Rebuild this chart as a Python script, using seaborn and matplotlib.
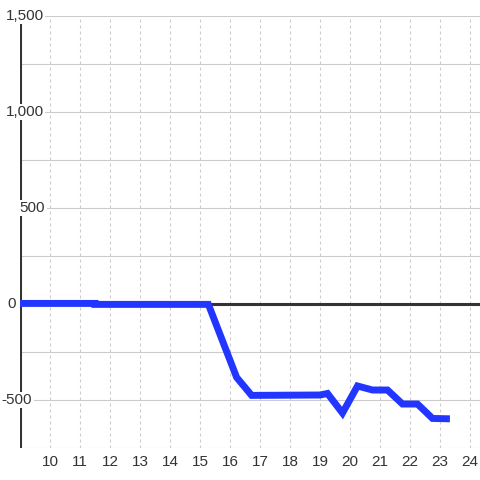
import pandas as pd
import seaborn as sns
import matplotlib.pyplot as plt
import matplotlib.transforms as mtransforms

# Data
hours = [9.0, 11.5, 11.5, 15.28, 16.22, 16.72, 19.0, 19.25, 19.75, 20.25, 20.75, 21.25, 21.75, 22.25, 22.75, 23.33]
values = [3, 3, -2, -2, -382, -476, -474, -466, -568, -427, -448, -448, -521, -521, -596, -598]

x_ticks = list(range(10, 25))
y_ticks = [1500, 1000, 500, 0, -500]
y_tick_labels = ['1,500', '1,000', '500', '0', '-500']
y_label_shift = [4.5, 4.5, 12.5, -8, -3]   # px from the axis line

df = pd.DataFrame({'Hour': hours, 'Value': values})

sns.set_style('white')
plt.rcParams['font.family'] = ['Liberation Sans', 'DejaVu Sans']

fig = plt.figure(figsize = (4.8, 4.8), dpi = 100)
ax = fig.add_axes([20 / 480, 32 / 480, 460 / 480, 432 / 480])
ax.set_xlim(9, 9 + 460 / 30)
ax.set_ylim(-750, 1500)

# grid
for y in range(-750, 1501, 250):
    ax.axhline(y, color = '#cccccc', lw = 0.8, zorder = 1)
for x in x_ticks:
    ax.axvline(x, color = '#cccccc', lw = 0.8, ls = (0, (2.7, 2.7)), zorder = 1)
ax.axhline(0, color = '#333333', lw = 2.2, zorder = 2)
ax.axvline(9, color = '#333333', lw = 2.2, zorder = 2)

sns.lineplot(data = df, x = 'Hour', y = 'Value', sort = False, estimator = None,
             color = '#2236ff', lw = 5, ax = ax, zorder = 3,
             solid_joinstyle = 'miter', solid_capstyle = 'butt')

for sp in ax.spines.values():
    sp.set_visible(False)

ax.set_xticks(x_ticks)
ax.set_xticklabels([str(t) for t in x_ticks])
ax.tick_params(axis = 'x', length = 0, pad = 5, labelsize = 11, labelcolor = '#333333')
ax.set_yticks([])
ax.set_xlabel('')
ax.set_ylabel('')

blend = mtransforms.blended_transform_factory(ax.transAxes, ax.transData)
for val, lab, dx in zip(y_ticks, y_tick_labels, y_label_shift):
    tr = blend + mtransforms.ScaledTranslation(dx / 100, 0, fig.dpi_scale_trans)
    ax.text(0, val, lab, transform = tr, ha = 'center', va = 'center',
            fontsize = 11, color = '#333333', zorder = 5, clip_on = False,
            bbox = dict(facecolor = 'white', edgecolor = 'none', pad = 1))

fig.savefig('out.png', dpi = 100)
